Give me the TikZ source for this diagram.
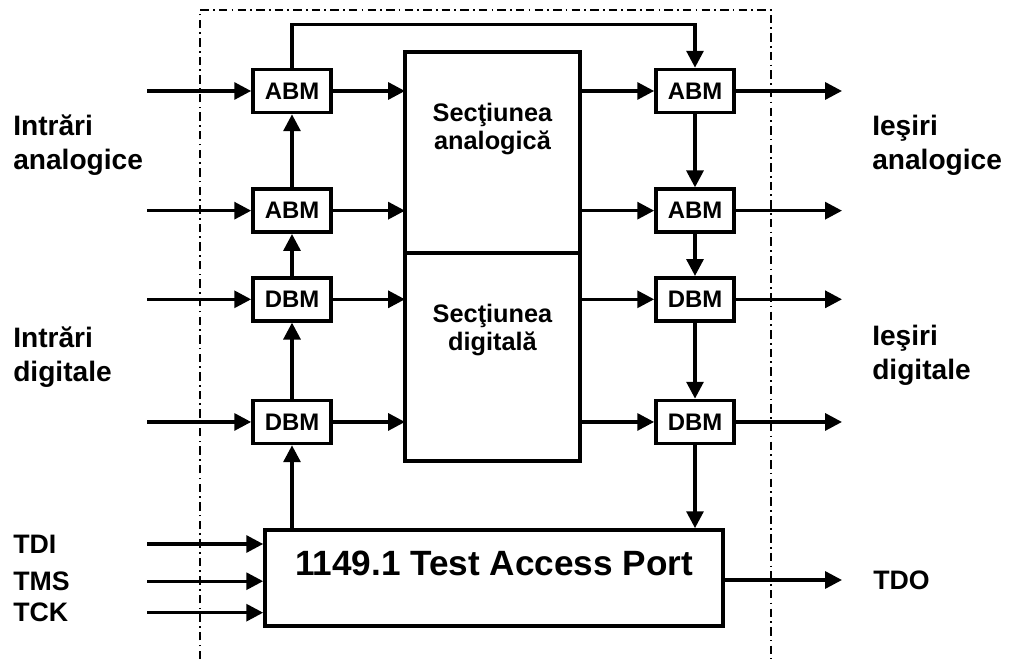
\documentclass[tikz,border=0pt]{standalone}
\usepackage{fontspec}
\setmainfont{Liberation Sans}
\usetikzlibrary{positioning,arrows.meta}

\begin{document}
\begin{tikzpicture}[
  node distance=1.05cm,
  >={Triangle[length=12pt,width=12pt]},
  bm/.style={draw, line width=2.6pt, minimum width=1.95cm, minimum height=1.075cm,
             inner sep=0pt, font=\fontsize{17}{19}\selectfont\bfseries},
  sec/.style={draw, line width=2.6pt, outer sep=0pt, minimum width=4.375cm},
  sectxt/.style={inner sep=0pt, align=center, font=\fontsize{18}{20}\selectfont\bfseries},
  tap/.style={draw, line width=2.6pt, minimum width=11.45cm, minimum height=2.4cm,
              text depth=21pt, font=\fontsize{25}{30}\selectfont\bfseries},
  lbl/.style={inner sep=0pt, anchor=west, align=left, font=\fontsize{20}{24}\selectfont\bfseries},
  io/.style={inner sep=0pt, anchor=west, font=\fontsize{19}{22}\selectfont\bfseries},
  sig/.style={->, line width=2.4pt},
  chipline/.style={line width=1.2pt, dash pattern=on 6pt off 3pt on 1.2pt off 3pt}]
  \useasboundingbox (0,0) rectangle (25.225,16.475);
  % chip outline
  \draw[chipline] (5,0) -- (5,16.225) -- (19.275,16.225) -- (19.275,0);
  % input boundary cells
  \node[bm] (aL1) at (7.3,14.2) {ABM};
  \node[bm, below=1.825cm of aL1] (aL2) {ABM};
  \node[bm, below=of aL2] (dL1) {DBM};
  \node[bm, below=1.9cm of dL1] (dL2) {DBM};
  % output boundary cells
  \node[bm] (aR1) at (17.375,14.2) {ABM};
  \node[bm, below=1.825cm of aR1] (aR2) {ABM};
  \node[bm, below=of aR2] (dR1) {DBM};
  \node[bm, below=1.9cm of dR1] (dR2) {DBM};
  % core
  \node[sec, minimum height=5.025cm] (secA) at (12.3125,12.6625) {};
  \node[sec, minimum height=5.2cm, below=0pt of secA] (secD) {};
  \node[sectxt, below=1.27cm of secA.north] (txtA) {Secţiunea\\analogică};
  \node[sectxt, below=1.27cm of secD.north] (txtD) {Secţiunea\\digitală};
  % test access port
  \node[tap] (tap) at (12.35,2.025) {1149.1 Test Access Port};
  % side labels
  \node[lbl] (inA) at (0.325,12.85) {Intrări\\analogice};
  \node[lbl] (inD) at (0.325,7.55) {Intrări\\digitale};
  \node[lbl] (outA) at (21.8,12.85) {Ieşiri\\analogice};
  \node[lbl] (outD) at (21.8,7.6) {Ieşiri\\digitale};
  \node[io] (tdi) at (0.325,2.875) {TDI};
  \node[io, below=0.45cm of tdi.south west, anchor=north west] (tms) {TMS};
  \node[io, below=0.3cm of tms.south west, anchor=north west] (tck) {TCK};
  \node[io] (tdo) at (21.825,1.975) {TDO};
  \coordinate (inx) at (3.675,0);
  \coordinate (outx) at (21.05,0);
  % arrows
  \foreach \n in {aL1,aL2,dL1,dL2}
    \draw[sig] (inx |- \n) -- (\n.west);
  \foreach \n in {aR1,aR2,dR1,dR2}
    \draw[sig] (\n.east) -- (outx |- \n);
  \foreach \n/\s in {aL1/secA, aL2/secA, dL1/secD, dL2/secD}
    \draw[sig] (\n.east) -- (\s.west |- \n);
  \foreach \n/\s in {aR1/secA, aR2/secA, dR1/secD, dR2/secD}
    \draw[sig] (\s.east |- \n) -- (\n.west);
  \foreach \a/\b in {aL2/aL1, dL1/aL2, dL2/dL1, aR1/aR2, aR2/dR1, dR1/dR2}
    \draw[sig] (\a) -- (\b);
  \draw[sig] (tap.north -| dL2) -- (dL2);
  \draw[sig] (dR2) -- (tap.north -| dR2);
  \draw[sig] (aL1.north) -- ++(0,1.075) -| (aR1.north);
  \foreach \p in {tdi,tms,tck}
    \draw[sig] (inx |- \p) -- (tap.west |- \p);
  \draw[sig] (tap.east |- tdo) -- (outx |- tdo);
\end{tikzpicture}
\end{document}
